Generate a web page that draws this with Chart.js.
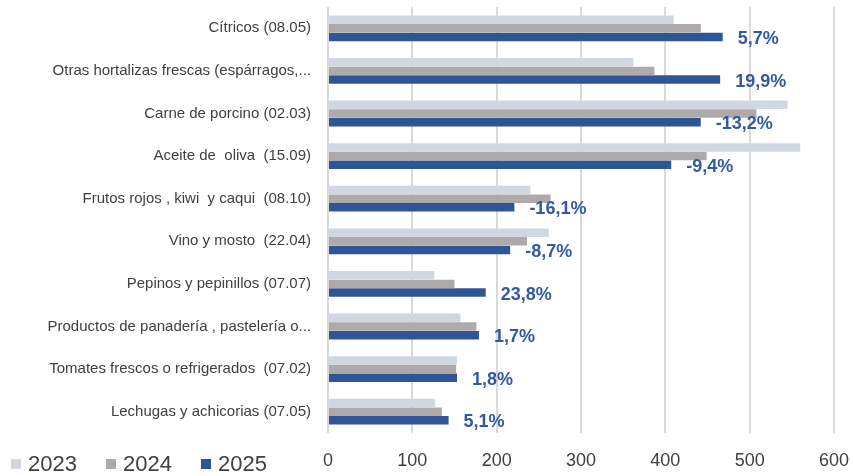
<!DOCTYPE html>
<html>
<head>
<meta charset="utf-8">
<script src="https://cdn.jsdelivr.net/npm/chart.js"></script>
<style>
  body { margin: 0; background: #fff; }
  #wrap { position: relative; width: 853px; height: 476px; }
  #legend { position: absolute; left: 11px; top: 451px; font-family: "Liberation Sans", Arial, sans-serif; font-size: 22px; color: #404040; white-space: nowrap; }
  #legend span.item { display: inline-block; width: 95px; }
  #legend span.box { display: inline-block; width: 10px; height: 10px; margin-right: 7px; vertical-align: 2px; }
</style>
</head>
<body>
<div id="wrap">
  <canvas id="chart" width="853" height="476"></canvas>
  <div id="legend"></div>
</div>
<script>
var categories = [
    'Cítricos (08.05)',
    'Otras hortalizas frescas (espárragos,...',
    'Carne de porcino (02.03)',
    'Aceite de  oliva  (15.09)',
    'Frutos rojos , kiwi  y caqui  (08.10)',
    'Vino y mosto  (22.04)',
    'Pepinos y pepinillos (07.07)',
    'Productos de panadería , pastelería o...',
    'Tomates frescos o refrigerados  (07.02)',
    'Lechugas y achicorias (07.05)'
];
var years = ['2023', '2024', '2025'];
var values2023 = [410, 362, 545, 560, 240, 262, 126, 157, 153, 127];
var values2024 = [442, 387, 508, 449, 264, 236, 150, 176, 152, 135];
var values2025 = [468, 465, 442, 407, 221, 216, 187, 179, 153, 143];
var changeLabels = ['5,7%', '19,9%', '-13,2%', '-9,4%', '-16,1%', '-8,7%', '23,8%', '1,7%', '1,8%', '5,1%'];
var xTicks = [0, 100, 200, 300, 400, 500, 600];

var colors = ['#cfd7e1', '#aeaaaa', '#2f5597'];
var font = '"Liberation Sans", Arial, sans-serif';

// labels with the % change, next to the 2025 bars
var changePlugin = {
    id: 'changeLabels',
    afterDatasetsDraw: function (chart) {
        var ctx = chart.ctx;
        var meta = chart.getDatasetMeta(2);
        ctx.save();
        ctx.font = 'bold 18px ' + font;
        ctx.fillStyle = '#3459a3';
        ctx.textAlign = 'left';
        ctx.textBaseline = 'middle';
        meta.data.forEach(function (bar, i) {
            ctx.fillText(changeLabels[i], bar.x + 15, bar.y + 2);
        });
        ctx.restore();
    }
};

var ctx = document.getElementById('chart').getContext('2d');

var chart = new Chart(ctx, {
    type: 'bar',
    data: {
        labels: categories,
        datasets: [
            { label: years[0], data: values2023, backgroundColor: colors[0] },
            { label: years[1], data: values2024, backgroundColor: colors[1] },
            { label: years[2], data: values2025, backgroundColor: colors[2] }
        ]
    },
    options: {
        indexAxis: 'y',
        responsive: false,
        animation: false,
        categoryPercentage: 0.61,
        barPercentage: 0.98,
        layout: { padding: { top: 7, right: 19, bottom: 0, left: 0 } },
        plugins: {
            legend: { display: false },
            tooltip: { enabled: false }
        },
        scales: {
            x: {
                min: 0,
                max: 600,
                afterBuildTicks: function (scale) {
                    scale.ticks = xTicks.map(function (v) { return { value: v }; });
                },
                afterFit: function (scale) {
                    scale.height = 43;
                    scale.paddingLeft = 0;
                    scale.paddingRight = 0;
                },
                grid: { color: '#d9d9d9', lineWidth: 2, drawTicks: false },
                border: { display: false },
                ticks: { padding: 17, color: '#404040', font: { family: font, size: 18 } }
            },
            y: {
                afterFit: function (scale) {
                    scale.width = 328;
                    scale.paddingTop = 0;
                    scale.paddingBottom = 0;
                },
                grid: { display: false, drawTicks: false },
                border: { display: false },
                ticks: { padding: 17, color: '#404040', font: { family: font, size: 15 }, autoSkip: false }
            }
        }
    },
    plugins: [changePlugin]
});

// legend row at the bottom left
var legend = document.getElementById('legend');
years.forEach(function (y, i) {
    var item = document.createElement('span');
    item.className = 'item';
    var box = document.createElement('span');
    box.className = 'box';
    box.style.background = colors[i];
    item.appendChild(box);
    item.appendChild(document.createTextNode(y));
    legend.appendChild(item);
});
</script>
</body>
</html>
